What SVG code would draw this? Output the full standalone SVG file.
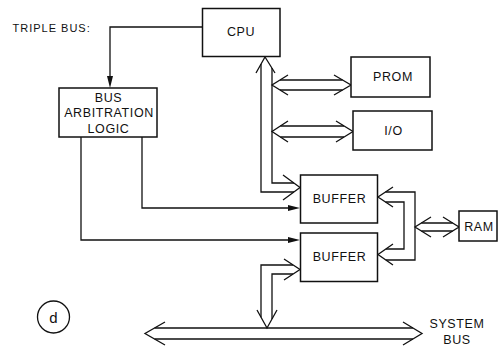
<svg xmlns="http://www.w3.org/2000/svg" width="498" height="347" viewBox="0 0 498 347">
<style>
.box{fill:#fff;stroke:#111;stroke-width:1.5}
.ln{fill:none;stroke:#111;stroke-width:1.3;stroke-linejoin:miter}
.hd{fill:#111;stroke:none}
.t{font-family:"Liberation Sans",Arial,sans-serif;font-size:12.5px;fill:#111;text-anchor:middle;letter-spacing:0.6px}
.lbl{font-family:"Liberation Sans",Arial,sans-serif;font-size:11px;fill:#111;letter-spacing:1px}
</style>
<rect width="498" height="347" fill="#fff"/>
<g id="connectors">
  <!-- CPU to arbitration -->
  <path class="ln" d="M202,27 H110 V78"/>
  <polygon class="hd" points="110,88 107,76 113,76"/>
  <!-- arbitration to buffers -->
  <path class="ln" d="M142,137 V208 H290"/>
  <polygon class="hd" points="300,208 288,205 288,211"/>
  <path class="ln" d="M81,137 V240 H290"/>
  <polygon class="hd" points="300,240 288,237 288,243"/>
  <!-- CPU vertical bus -->
  <path class="ln" d="M256,73 L265,57 L275,73"/>
  <path class="ln" d="M261,64 V192 H294"/>
  <path class="ln" d="M272,68 V183 H294"/>
  <path class="ln" d="M283,175 L300,187.5 L283,200"/>
  <!-- PROM branch -->
  <path class="ln" d="M288,75 L272,85 L288,95"/>
  <path class="ln" d="M334,75 L351,85 L334,95"/>
  <path class="ln" d="M280,80 H342.5 M280,90 H342.5"/>
  <!-- I/O branch -->
  <path class="ln" d="M288,121 L272,131.5 L288,142"/>
  <path class="ln" d="M336,121 L353,131.5 L336,142"/>
  <path class="ln" d="M280.4,126 H344 M280.4,137 H344"/>
  <!-- buffer right bus -->
  <path class="ln" d="M393,187 L378,197 L393,207"/>
  <path class="ln" d="M393,244 L378,254.5 L393,265"/>
  <path class="ln" d="M385.5,192 H415 V260 H385.9"/>
  <path class="ln" d="M385.5,202 H404 V249 H385.9"/>
  <!-- RAM -->
  <path class="ln" d="M431,217 L415,227 L431,237"/>
  <path class="ln" d="M443,217 L459,227 L443,237"/>
  <path class="ln" d="M421.4,223 H452.6 M421.4,231 H452.6"/>
  <!-- buffer2 to system bus -->
  <path class="ln" d="M284,259 L300,269.5 L284,280"/>
  <path class="ln" d="M293,265 H261 V317.2"/>
  <path class="ln" d="M293,274 H272 V319"/>
  <path class="ln" d="M257,310 L267,328 L277,310"/>
  <!-- system bus -->
  <path class="ln" d="M165,322 L145,333.5 L165,345"/>
  <path class="ln" d="M403,322 L422,333.5 L403,345"/>
  <path class="ln" d="M154.6,328 H412.9 M154.6,339 H412.9"/>
</g>
<g id="triple-bus-label"><text class="lbl" x="12.5" y="32">TRIPLE BUS:</text></g>
<g id="cpu"><rect class="box" x="202.5" y="8.5" width="77.5" height="48"/><text class="t" x="241" y="36">CPU</text></g>
<g id="prom"><rect class="box" x="351" y="57" width="79" height="40"/><text class="t" x="393" y="81">PROM</text></g>
<g id="io"><rect class="box" x="353" y="111" width="79" height="39"/><text class="t" x="393.5" y="134.5">I/O</text></g>
<g id="arbitration"><rect class="box" x="59" y="88" width="98" height="49"/>
  <text class="t" x="108.5" y="102">BUS</text>
  <text class="t" x="109" y="117">ARBITRATION</text>
  <text class="t" x="108.5" y="133">LOGIC</text></g>
<g id="buffer1"><rect class="box" x="300.5" y="175" width="77" height="48"/><text class="t" x="339.5" y="202.5">BUFFER</text></g>
<g id="buffer2"><rect class="box" x="300.5" y="233" width="77" height="48.5"/><text class="t" x="339.5" y="260.5">BUFFER</text></g>
<g id="ram"><rect class="box" x="459" y="211" width="38" height="30"/><text class="t" x="479" y="231">RAM</text></g>
<g id="system-bus-label"><text class="t" x="457" y="327.5">SYSTEM</text><text class="t" x="457" y="344">BUS</text></g>
<g id="d-label"><circle cx="53.5" cy="317" r="16" fill="none" stroke="#111" stroke-width="1.3"/><text font-family="'Liberation Sans',Arial,sans-serif" font-size="15" fill="#111" text-anchor="middle" x="53.5" y="322.5">d</text></g>
</svg>
